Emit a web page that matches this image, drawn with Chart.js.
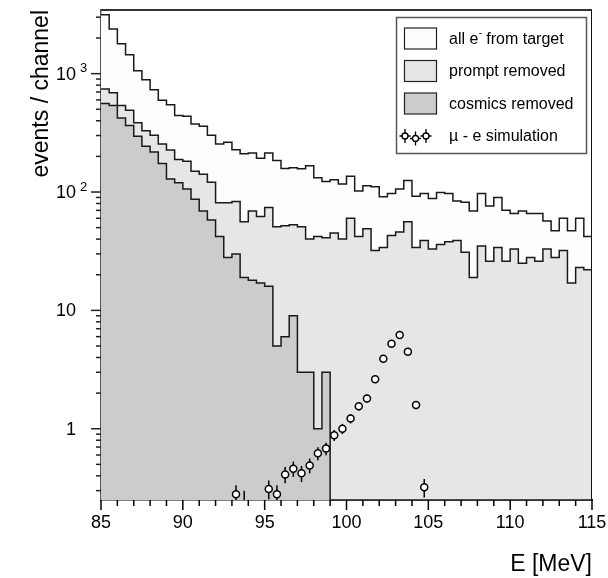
<!DOCTYPE html>
<html>
<head>
<meta charset="utf-8">
<script src="https://cdn.jsdelivr.net/npm/chart.js@4.4.1/dist/chart.umd.min.js"></script>
<style>
  html, body { margin: 0; padding: 0; background: #ffffff; }
  #wrap { width: 608px; height: 578px; }
</style>
</head>
<body>
<div id="wrap"><canvas id="c" width="608" height="578"></canvas></div>
<script>
// Energy spectrum binning: 60 channels of 0.5 MeV from 85 MeV
const binLow = 85;
const binWidth = 0.5;

// events per channel
const allFromTarget = [3150, 2380, 1790, 1445, 1060, 890, 732, 596, 547, 444,
  436, 376, 360, 302, 255, 263, 228, 211, 214, 193,
  214, 185, 158, 160, 157, 167, 132, 123, 127, 117,
  136, 102, 113, 111, 91, 97, 106, 125, 92, 97,
  88, 99, 97, 84, 82, 69, 97, 76, 90, 70,
  66, 69, 66, 66, 57, 47, 60, 47, 60, 42];

const promptRemoved = [743, 690, 537, 490, 384, 330, 302, 255, 226, 188,
  182, 150, 141, 121, 81, 81, 83, 56, 69, 62,
  74, 51, 52, 53, 51, 40, 42, 41, 45, 40,
  60, 42, 49, 32, 34, 43, 46, 56, 34, 39,
  33, 36, 38, 39, 31, 19, 35, 26, 34, 26,
  33, 25, 28, 26, 33, 28, 32, 17, 23, 22];

const cosmicsRemoved = [559, 537, 423, 364, 296, 244, 218, 174, 129, 120,
  106, 87, 69, 58, 42, 28, 30, 19, 18, 17,
  16, 5, 6, 9, 3, 3, 1, 3, 0, 0,
  0, 0, 0, 0, 0, 0, 0, 0, 0, 0,
  0, 0, 0, 0, 0, 0, 0, 0, 0, 0,
  0, 0, 0, 0, 0, 0, 0, 0, 0, 0];

// mu -> e conversion simulation (bin centres, expected events, errors)
const simEnergy = [93.25, 93.75, 95.25, 95.75, 96.25, 96.75, 97.25, 97.75, 98.25, 98.75,
  99.25, 99.75, 100.25, 100.75, 101.25, 101.75, 102.25, 102.75, 103.25, 103.75,
  104.25, 104.75];
const simCounts = [0.28, 0.23, 0.31, 0.28, 0.41, 0.46, 0.42, 0.49, 0.62, 0.68,
  0.88, 1.0, 1.22, 1.55, 1.8, 2.62, 3.91, 5.23, 6.19, 4.48,
  1.59, 0.32];
const simErrors = [0.053, 0.07, 0.056, 0.053, 0.064, 0.068, 0.065, 0.07, 0.079, 0.083,
  0.094, 0.1, 0.11, 0.125, 0.134, 0.162, 0.198, 0.229, 0.249, 0.212,
  0.126, 0.057];

// axes
const xMajorTicks = [85, 90, 95, 100, 105, 110, 115];
const yMin = 0.25;
const yMax = 3450;
const yMajorTicks = [1, 10, 100, 1000];
const yTickBase = ['1', '10', '10', '10'];
const yTickExp = ['', '', '2', '3'];

const legendLabels = ['all e', 'prompt removed', 'cosmics removed', '\u00B5 - e simulation'];
const legendFills = ['#fdfdfd', '#e6e6e6', '#cccccc'];

const FONT = '"Liberation Sans", Arial, Helvetica, sans-serif';

// step outline: one point per lower bin edge plus the closing edge;
// empty channels sit on the floor of the log axis
function histogramPoints(values) {
  const pts = values.map((v, i) => ({ x: binLow + i * binWidth, y: v > 0 ? v : yMin }));
  const last = values[values.length - 1];
  pts.push({ x: binLow + values.length * binWidth, y: last > 0 ? last : yMin });
  return pts;
}

function histDataset(label, values, fillColor, order) {
  return {
    label,
    data: histogramPoints(values),
    stepped: 'before',
    borderColor: '#1a1a1a',
    borderWidth: 1.5,
    backgroundColor: fillColor,
    fill: 'start',
    pointRadius: 0,
    order,
    clip: 1
  };
}

// error bars behind the simulation markers
const errorBarPlugin = {
  id: 'simErrorBars',
  beforeDatasetDraw(chart, args) {
    if (args.index !== 0) return;
    const { ctx, chartArea: a, scales: { x, y } } = chart;
    ctx.save();
    ctx.beginPath();
    ctx.rect(a.left, a.top, a.right - a.left, a.bottom - a.top);
    ctx.clip();
    ctx.strokeStyle = '#000';
    ctx.lineWidth = 1.5;
    simEnergy.forEach((e, i) => {
      const px = x.getPixelForValue(e);
      const lo = Math.max(simCounts[i] - simErrors[i], 1e-3);
      ctx.beginPath();
      ctx.moveTo(px, y.getPixelForValue(lo));
      ctx.lineTo(px, y.getPixelForValue(simCounts[i] + simErrors[i]));
      ctx.stroke();
    });
    ctx.restore();
  }
};

// frame, tick marks, y labels with exponents, legend box
const decorPlugin = {
  id: 'decor',
  afterDraw(chart) {
    const { ctx, chartArea: a, scales: { x, y } } = chart;
    ctx.save();
    // top and right frame
    ctx.strokeStyle = '#333';
    ctx.lineWidth = 2;
    ctx.beginPath();
    ctx.moveTo(a.left, a.top);
    ctx.lineTo(a.right, a.top);
    ctx.stroke();
    ctx.strokeStyle = '#111';
    ctx.lineWidth = 1;
    ctx.beginPath();
    ctx.moveTo(a.right - 0.5, a.top);
    ctx.lineTo(a.right - 0.5, a.bottom);
    ctx.stroke();

    // x tick marks every 1 MeV
    ctx.strokeStyle = '#000';
    ctx.lineWidth = 1.5;
    for (let v = x.min; v <= x.max; v += 1) {
      const px = x.getPixelForValue(v);
      const len = xMajorTicks.includes(v) ? 10 : 6;
      ctx.beginPath();
      ctx.moveTo(px, a.bottom);
      ctx.lineTo(px, a.bottom + len);
      ctx.stroke();
    }

    // y tick marks at 1..9 x 10^n
    ctx.strokeStyle = '#222';
    for (let d = -1; d <= 3; d++) {
      for (let m = 1; m <= 9; m++) {
        const v = m * Math.pow(10, d);
        if (v < y.min || v > y.max) continue;
        const py = y.getPixelForValue(v);
        const len = m === 1 ? 10 : 5;
        ctx.beginPath();
        ctx.moveTo(a.left, py);
        ctx.lineTo(a.left - len, py);
        ctx.stroke();
      }
    }

    // y labels
    ctx.fillStyle = '#000';
    ctx.textBaseline = 'middle';
    yMajorTicks.forEach((v, i) => {
      const py = y.getPixelForValue(v);
      ctx.font = '18px ' + FONT;
      ctx.textAlign = 'right';
      ctx.fillText(yTickBase[i], 76, py + 1);
      if (yTickExp[i]) {
        ctx.font = '13px ' + FONT;
        ctx.textAlign = 'left';
        ctx.fillText(yTickExp[i], 80, py - 5);
      }
    });

    // legend
    const L = { x: 396, y: 17, w: 190, h: 136 };
    ctx.fillStyle = '#ffffff';
    ctx.fillRect(L.x, L.y, L.w, L.h);
    ctx.strokeStyle = '#555';
    ctx.lineWidth = 1.5;
    ctx.strokeRect(L.x + 0.5, L.y + 0.5, L.w, L.h);
    const rowY = [38.5, 71, 103.5, 136];
    ctx.lineWidth = 1.2;
    ctx.strokeStyle = '#222';
    for (let i = 0; i < 3; i++) {
      ctx.fillStyle = legendFills[i];
      ctx.fillRect(404.5, rowY[i] - 10.5, 32, 21);
      ctx.strokeRect(404.5, rowY[i] - 10.5, 32, 21);
    }
    ctx.fillStyle = '#000';
    ctx.textAlign = 'left';
    ctx.textBaseline = 'middle';
    ctx.font = '16px ' + FONT;
    for (let i = 0; i < 4; i++) {
      ctx.fillText(legendLabels[i], 449, rowY[i] + 1);
    }
    // "e-" superscript and the rest of the first label
    const wE = ctx.measureText(legendLabels[0]).width;
    ctx.font = '10px ' + FONT;
    ctx.fillText('-', 449 + wE + 0.5, rowY[0] - 5);
    ctx.font = '16px ' + FONT;
    ctx.fillText(' from target', 449 + wE + 3.5, rowY[0] + 1);
    // simulation marker symbol
    const mk = [[405, rowY[3]], [415.5, rowY[3] + 2.5], [426, rowY[3]]];
    ctx.strokeStyle = '#000';
    ctx.lineWidth = 1.3;
    mk.forEach(([mx, my]) => {
      ctx.beginPath();
      ctx.moveTo(mx, my - 7); ctx.lineTo(mx, my + 7);
      ctx.moveTo(mx - 5.5, my); ctx.lineTo(mx + 5.5, my);
      ctx.stroke();
      ctx.beginPath();
      ctx.arc(mx, my, 3, 0, Math.PI * 2);
      ctx.fillStyle = '#fff';
      ctx.fill();
      ctx.stroke();
    });
    ctx.restore();
  }
};

new Chart(document.getElementById('c'), {
  type: 'line',
  data: {
    datasets: [
      {
        label: '\u00B5 - e simulation',
        data: simEnergy.map((e, i) => ({ x: e, y: simCounts[i] })),
        showLine: false,
        pointStyle: 'circle',
        pointRadius: 3.5,
        pointBorderWidth: 1.5,
        pointBackgroundColor: '#ffffff',
        pointBorderColor: '#000000',
        order: 0,
        clip: 0
      },
      histDataset('cosmics removed', cosmicsRemoved, '#cccccc', 1),
      histDataset('prompt removed', promptRemoved, '#e6e6e6', 2),
      histDataset('all e- from target', allFromTarget, '#fdfdfd', 3)
    ]
  },
  options: {
    responsive: false,
    animation: false,
    devicePixelRatio: 1,
    layout: { padding: { top: 10, right: 16, left: 0, bottom: 0 } },
    plugins: { legend: { display: false }, tooltip: { enabled: false } },
    elements: { line: { tension: 0 } },
    scales: {
      x: {
        type: 'linear',
        min: 85,
        max: 115,
        afterFit(scale) {
          scale.height = 78;
          scale.paddingLeft = 0;
          scale.paddingRight = 0;
        },
        afterBuildTicks(scale) { scale.ticks = xMajorTicks.map(v => ({ value: v })); },
        grid: { display: false, drawTicks: false, tickLength: 0 },
        border: { display: true, color: '#000', width: 1.5 },
        ticks: {
          autoSkip: false,
          maxRotation: 0,
          padding: 12,
          color: '#000',
          font: { family: FONT, size: 18 },
          callback: v => String(v)
        },
        title: {
          display: true,
          text: 'E [MeV]',
          align: 'end',
          color: '#000',
          font: { family: FONT, size: 23 },
          padding: { top: 0, bottom: 0 }
        }
      },
      y: {
        type: 'logarithmic',
        min: yMin,
        max: yMax,
        afterFit(scale) {
          scale.width = 101;
          scale.paddingTop = 0;
          scale.paddingBottom = 0;
        },
        grid: { display: false, drawTicks: false },
        border: { display: true, color: '#555', width: 1.5 },
        ticks: { display: false },
        title: {
          display: true,
          text: 'events / channel',
          align: 'end',
          color: '#000',
          font: { family: FONT, size: 23 },
          padding: { top: 28, bottom: 0 }
        }
      }
    }
  },
  plugins: [errorBarPlugin, decorPlugin]
});
</script>
</body>
</html>
